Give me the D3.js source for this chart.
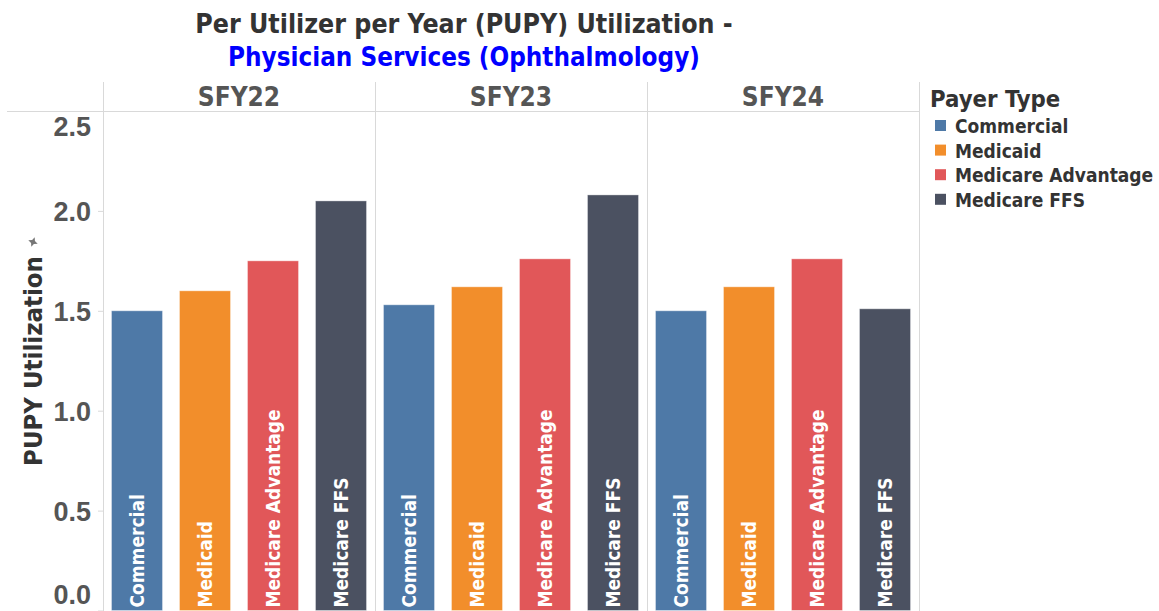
<!DOCTYPE html>
<html>
<head>
<meta charset="utf-8">
<script src="https://cdn.jsdelivr.net/npm/d3@7"></script>
<style>
  html, body { margin: 0; padding: 0; background: #fff; }
  svg { display: block; font-family: "DejaVu Sans Condensed", "DejaVu Sans", sans-serif; font-weight: 700; }
</style>
</head>
<body>
<svg id="chart" width="1159" height="611"></svg>
<script>
// PUPY utilization for ophthalmology physician services, by fiscal year and payer
const years = ["SFY22", "SFY23", "SFY24"];
const payers = ["Commercial", "Medicaid", "Medicare Advantage", "Medicare FFS"];
const commercial = [1.50, 1.53, 1.50];
const medicaid = [1.60, 1.62, 1.62];
const medicareAdvantage = [1.75, 1.76, 1.76];
const medicareFFS = [2.05, 2.08, 1.51];
const yTicks = [0, 0.5, 1.0, 1.5, 2.0, 2.5];
const payerColors = ["#4e79a7", "#f28e2b", "#e15759", "#4b5161"];

const seriesByPayer = [commercial, medicaid, medicareAdvantage, medicareFFS];
const rows = [];
years.forEach((yr, i) => payers.forEach((p, j) => rows.push({ year: yr, payer: p, value: seriesByPayer[j][i] })));

const svg = d3.select("#chart");
const plot = { left: 103, right: 919, top: 111, headerTop: 82, bottom: 610.5 };

const x = d3.scaleBand().domain(years).range([plot.left, plot.right]);
const xi = d3.scaleBand().domain(payers).range([0, x.bandwidth()]).paddingInner(0.25).paddingOuter(0.125);
const y = d3.scaleLinear().domain([0, 2.5]).range([plot.bottom, plot.top]);
const color = d3.scaleOrdinal().domain(payers).range(payerColors);

// Title
const title = svg.append("text").attr("text-anchor", "middle");
title.append("tspan").attr("x", 464).attr("y", 33).attr("fill", "#333").attr("font-size", 26.5)
  .text("Per Utilizer per Year (PUPY) Utilization -");
title.append("tspan").attr("x", 464).attr("y", 66).attr("fill", "#0000ff").attr("font-size", 25.8)
  .text("Physician Services (Ophthalmology)");

// Pane borders
const grid = svg.append("g").attr("stroke", "#d9d9d9").attr("stroke-width", 1);
grid.append("line").attr("x1", 7).attr("x2", plot.right).attr("y1", plot.top + 0.5).attr("y2", plot.top + 0.5);
[plot.left, ...years.map(d => x(d) + x.bandwidth())].forEach(v => {
  grid.append("line").attr("x1", Math.round(v) + 0.5).attr("x2", Math.round(v) + 0.5)
    .attr("y1", plot.headerTop).attr("y2", 611);
});

// Facet headers
svg.append("g").selectAll("text").data(years).join("text")
  .attr("x", d => x(d) + x.bandwidth() / 2).attr("y", 106)
  .attr("text-anchor", "middle").attr("font-size", 26).attr("fill", "#555")
  .text(d => d);

// Y axis
const yAxis = d3.axisLeft(y).tickValues(yTicks).tickFormat(d3.format(".1f")).tickSize(5).tickPadding(7);
const ya = svg.append("g").attr("transform", `translate(${plot.left},0)`).call(yAxis);
ya.select(".domain").remove();
ya.selectAll(".tick line").attr("stroke", "#d9d9d9");
ya.selectAll(".tick text").attr("font-size", 27).attr("fill", "#555")
  .attr("font-family", null).attr("font-weight", 700);
ya.selectAll(".tick text").attr("dy", d => d === 2.5 ? "0.9em" : d === 0 ? "-0.25em" : "0.36em");

svg.append("text").attr("transform", "translate(42,361) rotate(-90)").attr("text-anchor", "middle")
  .attr("font-size", 25.5).attr("fill", "#333").text("PUPY Utilization");
// sort indicator next to axis title
svg.append("path").attr("d", "M0,-5 L1.5,-1.5 L5,0 L1.5,1.5 L0,5 L-1.5,1.5 L-5,0 L-1.5,-1.5 Z")
  .attr("transform", "translate(33,242) rotate(20)").attr("fill", "#777");

// Bars
const bars = svg.append("g");
bars.selectAll("rect").data(rows).join("rect")
  .attr("x", d => x(d.year) + xi(d.payer))
  .attr("width", xi.bandwidth())
  .attr("y", d => y(d.value))
  .attr("height", d => y(0) - y(d.value))
  .attr("fill", d => color(d.payer))
  .attr("stroke", "rgba(255,255,255,0.35)").attr("stroke-width", 1);

// Labels inside bars
bars.selectAll("text").data(rows).join("text")
  .attr("transform", d => `translate(${x(d.year) + xi(d.payer) + xi.bandwidth() / 2 + 7},${y(0) - 3}) rotate(-90)`)
  .attr("font-size", 19).attr("fill", "#fff")
  .text(d => d.payer);

// Legend
const lg = svg.append("g").attr("transform", "translate(930,0)");
lg.append("text").attr("x", 0).attr("y", 107).attr("font-size", 23.7).attr("fill", "#333")
  .text("Payer Type");
const li = lg.selectAll("g.item").data(payers).join("g").attr("class", "item")
  .attr("transform", (d, i) => `translate(0,${126 + i * 24.6})`);
li.append("rect").attr("x", 5).attr("y", -6).attr("width", 11).attr("height", 11).attr("fill", d => color(d));
li.append("text").attr("x", 25).attr("y", 7).attr("font-size", 19).attr("fill", "#333")
  .text(d => d);
</script>
</body>
</html>
